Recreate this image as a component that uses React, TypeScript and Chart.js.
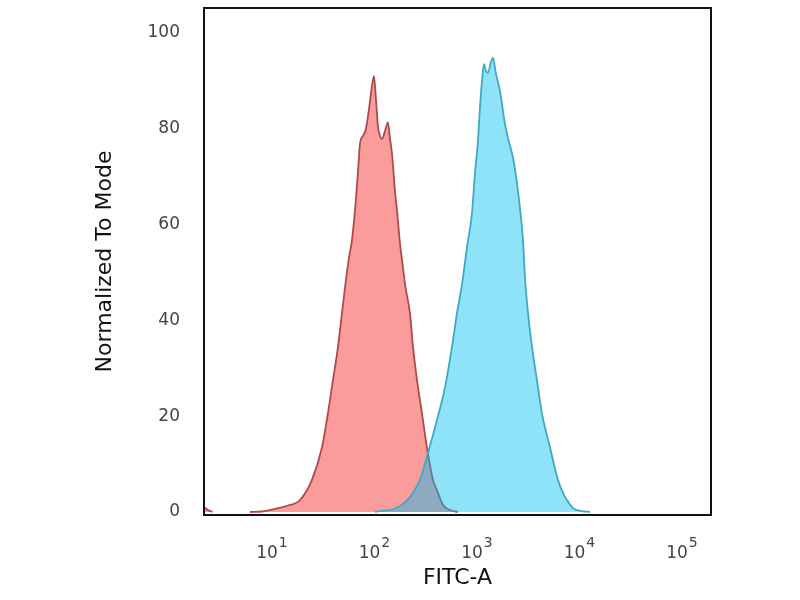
import React, { useEffect, useRef } from "react";
import { Chart, registerables } from "chart.js";

Chart.register(...registerables);

// FITC-A positions in log10 units, Normalized To Mode values
const redLog = [0.337, 0.376, 0.42, null, 0.785, 0.902, 1.059, 1.146, 1.273, 1.39, 1.488, 1.546, 1.595, 1.644, 1.683, 1.722, 1.751, 1.78, 1.81, 1.839, 1.859, 1.888, 1.917, 1.946, 1.976, 1.995, 2.015, 2.034, 2.054, 2.073, 2.102, 2.132, 2.151, 2.171, 2.2, 2.22, 2.249, 2.278, 2.298, 2.346, 2.376, 2.415, 2.463, 2.512, 2.571, 2.61, 2.668, 2.737, 2.815];
const redValues = [1.0, 0.4, 0, null, 0, 0.1, 0.8, 1.3, 2.5, 6.7, 13.5, 20.6, 27.5, 34.4, 41.5, 48.5, 53, 56.7, 62.9, 71, 76.9, 78.5, 80, 84, 89, 91, 86, 80.5, 78.5, 77.9, 79.5, 81.3, 78, 74.8, 67, 62.9, 56, 51, 47.5, 41.5, 34.4, 27.5, 20.6, 13.5, 6.7, 4.5, 1.5, 0.4, 0];

const blueLog = [2.005, 2.102, 2.151, 2.249, 2.346, 2.444, 2.522, 2.61, 2.688, 2.756, 2.805, 2.854, 2.902, 2.951, 2.98, 3.01, 3.029, 3.049, 3.068, 3.088, 3.107, 3.137, 3.156, 3.185, 3.224, 3.273, 3.302, 3.322, 3.351, 3.4, 3.449, 3.468, 3.498, 3.537, 3.585, 3.634, 3.712, 3.79, 3.849, 3.878, 3.937, 4.024, 4.102];
const blueValues = [0, 0.3, 0.4, 1.2, 3.1, 6.7, 12.3, 19.2, 26, 34.4, 41.5, 47.5, 55.2, 62.3, 70.6, 77.5, 84.4, 90, 93.5, 92, 91.7, 94, 94.8, 91.5, 87.9, 81, 78.1, 76.5, 74, 67, 56.7, 49, 41.5, 34.4, 27.5, 20.6, 13.5, 6.7, 3.5, 2.5, 0.8, 0.2, 0];

const xTickBase = "10";
const xTickExponents = [1, 2, 3, 4, 5];
const yTickValues = [0, 20, 40, 60, 80, 100];

const xTitle = "FITC-A";
const yTitle = "Normalized To Mode";

const toPoints = (xs: (number | null)[], ys: (number | null)[]) =>
  xs.map((x, i) => ({ x: (x === null ? NaN : x) as any, y: ys[i] as any }));

const boxPlugin = {
  id: "plotBox",
  afterDraw(chart: any) {
    const { ctx, chartArea } = chart;
    ctx.save();
    ctx.strokeStyle = "#111";
    ctx.lineWidth = 2;
    ctx.strokeRect(chartArea.left, chartArea.top, chartArea.right - chartArea.left, chartArea.bottom - chartArea.top);
    ctx.restore();
  },
};

// draws the x tick labels as 10 with a raised exponent
const powerLabels = {
  id: "powerLabels",
  afterDraw(chart: any) {
    const { ctx } = chart;
    const xs = chart.scales.x;
    ctx.save();
    ctx.fillStyle = "#444";
    ctx.textBaseline = "alphabetic";
    ctx.textAlign = "left";
    xTickExponents.forEach((e) => {
      const px = xs.getPixelForValue(e);
      ctx.font = "17px 'DejaVu Sans'";
      const w1 = ctx.measureText(xTickBase).width;
      ctx.font = "14px 'DejaVu Sans'";
      const sup = String(e);
      const w2 = ctx.measureText(sup).width;
      const start = px - (w1 + 1 + w2) / 2;
      ctx.font = "17px 'DejaVu Sans'";
      ctx.fillText(xTickBase, start, 558);
      ctx.font = "14px 'DejaVu Sans'";
      ctx.fillText(sup, start + w1 + 1, 547);
    });
    ctx.restore();
  },
};

export default function App() {
  const ref = useRef<HTMLCanvasElement | null>(null);

  useEffect(() => {
    if (!ref.current) return;
    const tickFont = { family: "DejaVu Sans", size: 17 };
    const titleFont = { family: "DejaVu Sans", size: 22 };
    const chart = new Chart(ref.current, {
      type: "line",
      data: {
        datasets: [
          {
            label: "red",
            data: toPoints(redLog, redValues),
            borderColor: "#B04A4A",
            backgroundColor: "#FA9C9C",
            borderWidth: 1.8,
            fill: "origin",
            pointRadius: 0,
            cubicInterpolationMode: "monotone",
            spanGaps: false,
            order: 2,
          },
          {
            label: "blue",
            data: toPoints(blueLog, blueValues),
            borderColor: "#3FA9C3",
            backgroundColor: "rgba(0, 192, 242, 0.44)",
            borderWidth: 1.8,
            fill: "origin",
            pointRadius: 0,
            cubicInterpolationMode: "monotone",
            order: 1,
          },
        ],
      },
      options: {
        animation: false,
        responsive: false,
        maintainAspectRatio: false,
        parsing: false as any,
        layout: { padding: { top: 8, right: 89, left: 0, bottom: 0 } },
        plugins: { legend: { display: false }, tooltip: { enabled: false } },
        scales: {
          x: {
            type: "linear",
            min: 0.337,
            max: 5.283,
            grid: { display: false, drawTicks: false },
            border: { display: false },
            afterBuildTicks: (scale: any) => {
              scale.ticks = xTickExponents.map((v) => ({ value: v }));
            },
            afterFit: (scale: any) => {
              scale.height = 85;
              scale.paddingLeft = 0;
              scale.paddingRight = 0;
            },
            ticks: {
              display: false,
              autoSkip: false,
              maxRotation: 0,
            },
            title: {
              display: true,
              text: xTitle,
              color: "#111",
              font: titleFont,
              padding: { top: 0, bottom: 9 },
            },
          },
          y: {
            type: "linear",
            min: -0.63,
            max: 105.2,
            grid: { display: false, drawTicks: false },
            border: { display: false },
            afterBuildTicks: (scale: any) => {
              scale.ticks = yTickValues.map((v) => ({ value: v }));
            },
            afterFit: (scale: any) => {
              scale.width = 204;
              scale.paddingTop = 0;
              scale.paddingBottom = 0;
            },
            ticks: {
              autoSkip: false,
              padding: 24,
              color: "#444",
              font: tickFont,
            },
            title: {
              display: true,
              text: yTitle,
              color: "#111",
              font: titleFont,
              padding: { top: 92, bottom: 0 },
            },
          },
        },
      },
      plugins: [boxPlugin, powerLabels],
    });
    return () => chart.destroy();
  }, []);

  return (
    <div style={{ position: "fixed", left: 0, top: 0, width: 800, height: 600, background: "#fff" }}>
      <canvas ref={ref} width={800} height={600} style={{ width: 800, height: 600, display: "block" }} />
    </div>
  );
}
